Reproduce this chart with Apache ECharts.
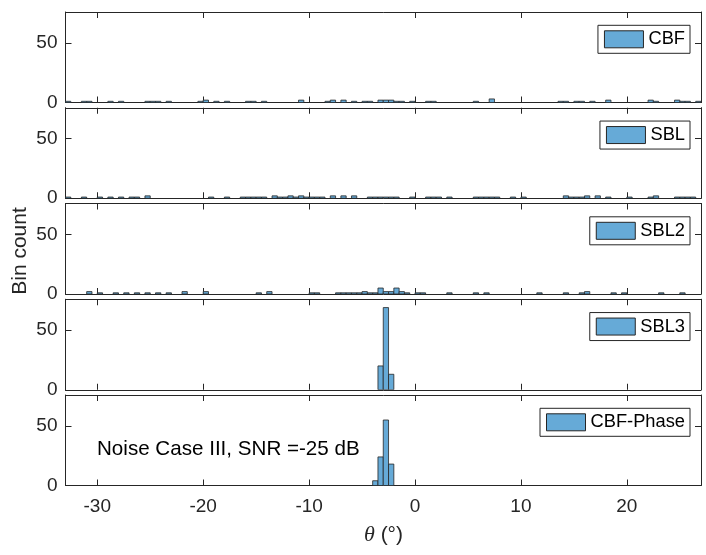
<!DOCTYPE html>
<html><head><meta charset="utf-8">
<script src="https://cdn.jsdelivr.net/npm/echarts@6/dist/echarts.min.js"></script>
<style>html,body{margin:0;padding:0;background:#fff}#c{width:706px;height:555px}</style>
</head><body><div id="c"></div>
<script>
// ---------- data ----------
const methodNames = ['CBF', 'SBL', 'SBL2', 'SBL3', 'CBF-Phase'];
const binWidth = 0.5;

const cbfEdges  = [-33,-31.5,-31,-29,-28, -25.5,-25,-24.5,-23.5, -20.5,-20,-19,-18, -16,-15.5,-14.5, -11, -8.5,-8,-7,-6, -5,-4.5, -3.5,-3,-2.5,-2,-1.5, -0.5, 1,1.5, 5.5, 7, 13.5,14, 15,15.5, 16.5, 18, 22,22.5, 24.5,25,25.5, 26.5];
const cbfCounts = [1,1,1,1,1, 1,1,1,1, 1,2,1,1, 1,1,1, 2, 1,2,2,1, 1,1, 2,2,2,1,1, 1, 1,1, 1, 3, 1,1, 1,1, 1, 2, 2,1, 2,1,1, 1];

const sblEdges  = [-33,-31.5,-30,-29,-28,-27,-26.5,-25.5, -19.5,-18, -16.5,-16,-15.5,-15,-14.5, -13.5,-13,-12.5,-12,-11.5,-11,-10.5,-10,-9.5,-9, -8,-7,-6, -4.5,-4,-3.5,-3,-2.5,-2, -0.5, 1,1.5,2, 3, 5.5,6,6.5,7,7.5, 9,10, 14,14.5,15,15.5,16, 17,18, 20, 22,22.5, 24.5,25,25.5,26];
const sblCounts = [1,1,1,1,1,1,1,2, 1,1, 1,1,1,1,1, 2,1,1,2,1,2,1,1,1,1, 2,2,2, 1,1,1,1,1,1, 1, 1,1,1, 1, 1,1,1,1,1, 1,1, 2,1,1,1,2, 2,1, 1, 1,2, 1,1,1,1];

const sbl2Edges  = [-31,-30,-28.5,-27.5,-26.5,-25.5,-24.5,-23.5, -22,-20, -15,-14, -10,-9.5, -7.5,-7,-6.5,-6,-5.5,-5,-4.5,-4, -3.5,-3,-2.5,-2,-1.5,-1, 0,0.5, 3, 5.5,6.5, 11.5, 14, 15.5,16, 18.5,19.5, 23, 25];
const sbl2Counts = [2,1,1,1,1,1,1,1, 2,2, 1,2, 1,1, 1,1,1,1,1,2,1,1, 5,2,2,5,2,1, 1,1, 1, 1,1, 1, 1, 1,2, 1,1, 1, 1];

const sbl3Edges  = [-3.5, -3, -2.5];
const sbl3Counts = [20, 69, 13];

const phaseEdges  = [-4, -3.5, -3, -2.5];
const phaseCounts = [4, 24, 55, 18];

const xTickLabels = ['-30', '-20', '-10', '0', '10', '20'];
const yTickLabels = ['0', '50'];
const annotationText = 'Noise Case III, SNR =-25 dB';
const yAxisTitle = 'Bin count';

// ---------- styling / layout ----------
const panelEdges  = [cbfEdges, sblEdges, sbl2Edges, sbl3Edges, phaseEdges];
const panelCounts = [cbfCounts, sblCounts, sbl2Counts, sbl3Counts, phaseCounts];
const axisColor = '#262626';
const barFill = 'rgb(102,170,215)';
const font = 'Liberation Sans, Arial, Helvetica, sans-serif';
const gridLeft = 65.5, gridRight = 5, gridTop0 = 12, gridStep = 95.75, gridH = 90.5;

const grids = [], xAxes = [], yAxes = [], series = [], legends = [];
for (let i = 0; i < 5; i++) {
  const top = gridTop0 + i * gridStep;
  grids.push({left: gridLeft, right: gridRight, top: top, height: gridH});
  const xBase = {
    type: 'value', gridIndex: i, min: -33, max: 27,
    axisLine: {show: true, onZero: false, lineStyle: {color: axisColor, width: 1}},
    axisTick: {show: true, inside: true, length: 6, lineStyle: {color: axisColor, width: 1}},
    splitLine: {show: false}
  };
  xAxes.push(Object.assign({}, xBase, {
    position: 'bottom',
    axisLabel: {show: i === 4, fontSize: 19, color: axisColor, fontFamily: font, margin: 12,
      showMinLabel: false, showMaxLabel: false,
      formatter: v => xTickLabels.includes(String(v)) ? String(v) : ''}
  }));
  xAxes.push(Object.assign({}, xBase, {position: 'top', axisLabel: {show: false}}));
  const yBase = {
    type: 'value', gridIndex: i, min: 0, max: 76, interval: 50,
    axisLine: {show: true, onZero: false, lineStyle: {color: axisColor, width: 1}},
    axisTick: {show: true, inside: true, length: 6, lineStyle: {color: axisColor, width: 1}},
    splitLine: {show: false}
  };
  yAxes.push(Object.assign({}, yBase, {
    position: 'left',
    axisLabel: {show: true, fontSize: 19, color: axisColor, fontFamily: font, margin: 8,
      showMaxLabel: false,
      formatter: v => yTickLabels.includes(String(v)) ? String(v) : ''}
  }));
  yAxes.push(Object.assign({}, yBase, {position: 'right', axisLabel: {show: false}}));

  const edges = panelEdges[i], counts = panelCounts[i];
  series.push({
    type: 'custom', name: methodNames[i],
    xAxisIndex: 2 * i, yAxisIndex: 2 * i,
    data: edges.map((e, k) => [e, counts[k]]),
    encode: {x: 0, y: 1},
    clip: true,
    itemStyle: {color: barFill},
    renderItem: function (params, api) {
      const x0 = api.value(0), c = api.value(1);
      const p0 = api.coord([x0, 0]);
      const p1 = api.coord([x0 + binWidth, c]);
      return {
        type: 'rect',
        shape: {x: p0[0], y: p1[1], width: p1[0] - p0[0], height: p0[1] - p1[1]},
        style: {fill: barFill, stroke: axisColor, lineWidth: 0.8}
      };
    }
  });

  legends.push({
    data: [methodNames[i]],
    right: 16, top: top + 13.3,
    orient: 'horizontal',
    padding: [5, 5, 5, 6],
    backgroundColor: '#fff',
    borderColor: axisColor, borderWidth: 1,
    icon: 'rect', itemWidth: 39, itemHeight: 17,
    itemStyle: {color: barFill, borderColor: axisColor, borderWidth: 1},
    textStyle: {fontSize: 18.3, color: '#000', fontFamily: font, lineHeight: 17},
    selectedMode: false
  });
}

const chart = echarts.init(document.getElementById('c'), null, {renderer: 'canvas'});
chart.setOption({
  animation: false,
  backgroundColor: '#fff',
  grid: grids,
  xAxis: xAxes,
  yAxis: yAxes,
  legend: legends,
  series: series,
  graphic: [
    {type: 'text', left: 97, top: 439, z: 10,
     style: {text: annotationText, fontSize: 20.6, fill: '#000', fontFamily: font}},
    {type: 'text', x: 20, y: 251, rotation: Math.PI / 2, z: 10,
     style: {text: yAxisTitle, fontSize: 21, fill: axisColor, fontFamily: font, align: 'center', verticalAlign: 'middle'}},
    {type: 'text', x: 383.5, y: 535, z: 10,
     style: {text: '{t|θ} (°)', fontSize: 21, fill: axisColor, fontFamily: font, align: 'center', verticalAlign: 'middle',
       rich: {t: {fontFamily: 'Liberation Serif, DejaVu Serif, serif', fontStyle: 'italic', fontSize: 22, fill: axisColor}}}}
  ]
});
</script></body></html>
